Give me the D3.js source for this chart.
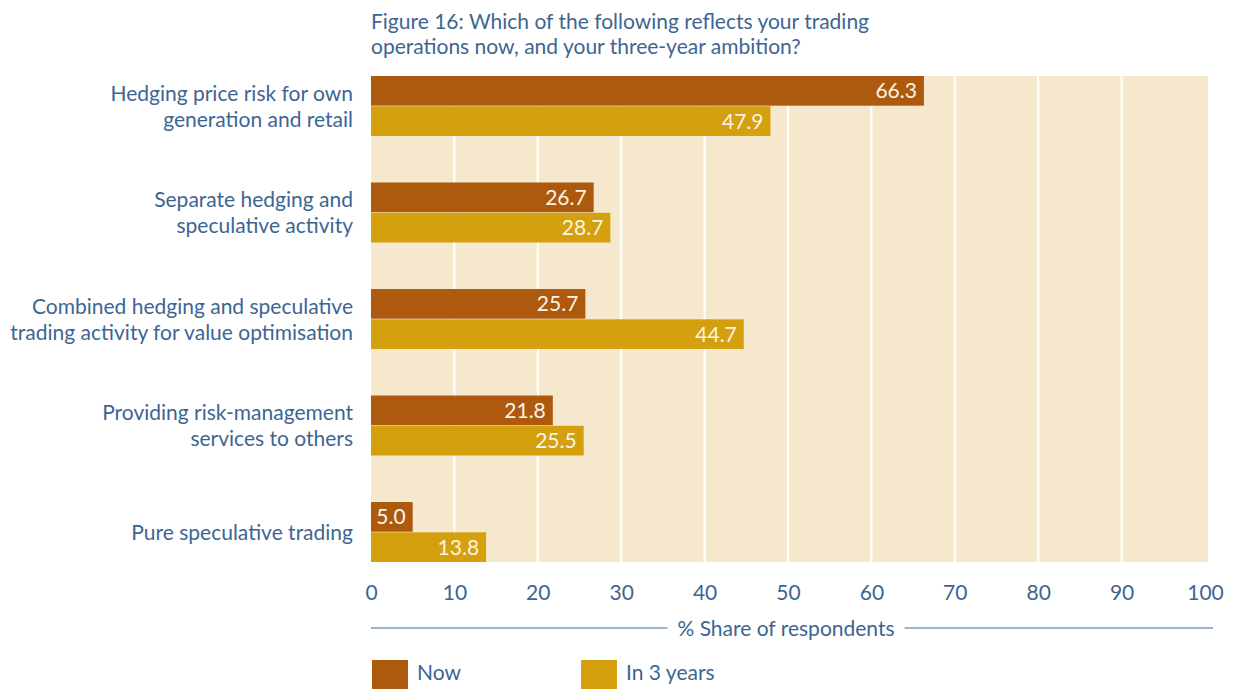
<!DOCTYPE html>
<html>
<head>
<meta charset="utf-8">
<script src="https://cdn.jsdelivr.net/npm/d3@7/dist/d3.min.js"></script>
<style>
  html, body { margin: 0; padding: 0; background: #ffffff; }
  svg text { font-family: Lato, "Open Sans", sans-serif; }
</style>
</head>
<body>
<svg id="chart" width="1240" height="689"></svg>
<script>
// Survey answers: share of respondents (%)
const categories = [
  ["Hedging price risk for own", "generation and retail"],
  ["Separate hedging and", "speculative activity"],
  ["Combined hedging and speculative", "trading activity for value optimisation"],
  ["Providing risk-management", "services to others"],
  ["Pure speculative trading"]
];
const seriesNames = ["Now", "In 3 years"];
const nowValues = [66.3, 26.7, 25.7, 21.8, 5.0];
const in3YearsValues = [47.9, 28.7, 44.7, 25.5, 13.8];
const xTicks = [0, 10, 20, 30, 40, 50, 60, 70, 80, 90, 100];
const titleLines = [
  "Figure 16: Which of the following reflects your trading",
  "operations now, and your three-year ambition?"
];
const axisTitle = "% Share of respondents";

const colors = ["#ad5a0f", "#d4a00d"];
const textColor = "#3d6592";
const bgColor = "#f5e8cc";
const fontSize = 21;

const svg = d3.select("#chart");

const plotLeft = 371, plotRight = 1205, plotTop = 76, plotBottom = 562;

const x = d3.scaleLinear().domain([0, 100]).range([plotLeft, plotRight]);
const y = d3.scaleBand().domain(d3.range(categories.length)).range([plotTop, plotBottom]).paddingInner(0.437).paddingOuter(0);
const ySub = d3.scaleBand().domain(d3.range(seriesNames.length)).range([0, y.bandwidth()]).paddingInner(0.02);

// Title
svg.append("g").selectAll("text").data(titleLines).join("text")
  .attr("x", plotLeft)
  .attr("y", (d, i) => 29 + i * 25)
  .attr("fill", textColor)
  .attr("font-size", fontSize)
  .text(d => d);

// Plot background
svg.append("rect")
  .attr("x", plotLeft).attr("y", plotTop)
  .attr("width", 1208 - plotLeft).attr("height", plotBottom - plotTop)
  .attr("fill", bgColor);

// Vertical gridlines
svg.append("g").selectAll("line").data(xTicks.filter(t => t > 0 && t < 100)).join("line")
  .attr("x1", d => x(d)).attr("x2", d => x(d))
  .attr("y1", plotTop).attr("y2", plotBottom)
  .attr("stroke", "#ffffff").attr("stroke-width", 2);

// Bars
const rows = categories.map((c, i) => ({ i, values: [nowValues[i], in3YearsValues[i]] }));
const groups = svg.append("g").selectAll("g").data(rows).join("g")
  .attr("transform", d => `translate(0,${y(d.i)})`);

const bars = groups.selectAll("g").data(d => d.values.map((v, s) => ({ v, s }))).join("g");
bars.append("rect")
  .attr("x", x(0))
  .attr("y", d => ySub(d.s))
  .attr("width", d => x(d.v) - x(0))
  .attr("height", ySub.bandwidth())
  .attr("fill", d => colors[d.s]);
bars.append("text")
  .attr("x", d => x(d.v) - 7)
  .attr("y", d => ySub(d.s) + ySub.bandwidth() / 2)
  .attr("dy", "0.36em")
  .attr("text-anchor", "end")
  .attr("fill", "#fbf4e6")
  .attr("font-size", fontSize)
  .text(d => d3.format(".1f")(d.v));

// Category labels
const labelG = svg.append("g").selectAll("text").data(categories).join("text")
  .attr("text-anchor", "end")
  .attr("fill", textColor)
  .attr("font-size", fontSize);
labelG.each(function(lines, i) {
  const cy = y(i) + y.bandwidth() / 2;
  const lh = 26;
  d3.select(this).selectAll("tspan").data(lines).join("tspan")
    .attr("x", 353)
    .attr("y", (d, j) => cy + (j - (lines.length - 1) / 2) * lh)
    .attr("dy", "0.36em")
    .text(d => d);
});

// X axis tick labels
const xAxis = d3.axisBottom(x).tickValues(xTicks).tickSize(0).tickPadding(0).tickFormat(d3.format("d"));
const axisG = svg.append("g").attr("transform", `translate(0,${plotBottom + 23})`).call(xAxis);
axisG.select(".domain").remove();
axisG.selectAll("text")
  .attr("fill", textColor)
  .attr("font-size", fontSize)
  .attr("font-family", "Lato, 'Open Sans', sans-serif");

// Axis title with rules either side
const titleY = 628;
const axisTitleText = svg.append("text")
  .attr("x", 786).attr("y", titleY)
  .attr("dy", "0.36em")
  .attr("text-anchor", "middle")
  .attr("fill", textColor)
  .attr("font-size", fontSize)
  .text(axisTitle);
const tw = axisTitleText.node().getComputedTextLength();
svg.append("line")
  .attr("x1", plotLeft).attr("x2", 786 - tw / 2 - 10)
  .attr("y1", titleY).attr("y2", titleY)
  .attr("stroke", "#7e9cbf").attr("stroke-width", 1.5);
svg.append("line")
  .attr("x1", 786 + tw / 2 + 10).attr("x2", 1213)
  .attr("y1", titleY).attr("y2", titleY)
  .attr("stroke", "#7e9cbf").attr("stroke-width", 1.5);

// Legend
const legendX = [372, 581];
const legend = svg.append("g").selectAll("g").data(seriesNames).join("g")
  .attr("transform", (d, i) => `translate(${legendX[i]},660)`);
legend.append("rect")
  .attr("width", 36).attr("height", 30)
  .attr("fill", (d, i) => colors[i]);
legend.append("text")
  .attr("x", 45).attr("y", 12)
  .attr("dy", "0.36em")
  .attr("fill", textColor)
  .attr("font-size", fontSize)
  .text(d => d);
</script>
</body>
</html>
